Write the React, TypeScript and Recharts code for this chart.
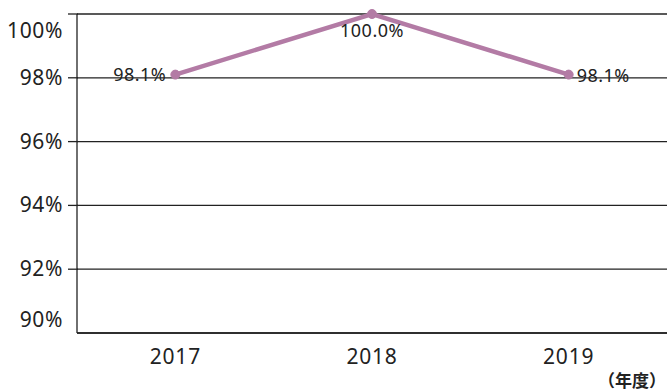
import React from 'react';
import { LineChart, Line, XAxis, YAxis, CartesianGrid, LabelList } from 'recharts';

const years = ['2017', '2018', '2019'];
const rates = [98.1, 100.0, 98.1];
const yTicks = [90, 92, 94, 96, 98, 100];

const chartData = years.map((year, i) => ({ year, rate: rates[i] }));

const FONT = '"Noto Sans", sans-serif';
const CJK = '"Noto Sans CJK JP", sans-serif';
const INK = '#222';
const TEXT = '#222';
const LINE_COLOR = '#b37ba5';

const YTick = ({ x, y, payload }: any) => {
  const v = payload.value;
  // top and bottom labels sit inside the plot band in the original
  const shift = v === 100 ? 17 : v === 90 ? -13 : 0;
  return (
    <g>
      {v !== 90 && <line x1={x - 1} x2={x + 9} y1={y} y2={y} stroke={INK} strokeWidth={1.3} />}
      <text x={x - 6} y={y + shift} dy={7} textAnchor="end" fontSize={21} letterSpacing={0.6} fill={TEXT} fontFamily={FONT}>
        {v}%
      </text>
    </g>
  );
};

const XTick = ({ x, y, payload }: any) => (
  <text x={x} y={y} dy={23} textAnchor="middle" fontSize={21} letterSpacing={0.8} fill={TEXT} fontFamily={FONT}>
    {payload.value}
  </text>
);

const PointLabel = ({ x, y, value, index }: any) => {
  const text = `${Number(value).toFixed(1)}%`;
  const common = { fontSize: 18, letterSpacing: 0.5, fill: TEXT, fontFamily: FONT };
  if (index === 0) {
    return <text x={x - 9} y={y} dy={6} textAnchor="end" {...common}>{text}</text>;
  }
  if (index === 1) {
    return <text x={x} y={y + 17} dy={6} textAnchor="middle" {...common}>{text}</text>;
  }
  return <text x={x + 8} y={y} dy={7} textAnchor="start" {...common}>{text}</text>;
};

export default function App() {
  return (
    <div style={{ position: 'absolute', left: 0, top: 0, width: 669, height: 391, background: '#fff' }}>
      <LineChart width={669} height={391} data={chartData} margin={{ top: 14, right: 2, bottom: 0, left: 0 }}>
        <CartesianGrid vertical={false} stroke={INK} strokeWidth={1.3} />
        <XAxis
          dataKey="year"
          scale="band"
          height={58}
          axisLine={{ stroke: INK, strokeWidth: 1.3 }}
          tickLine={false}
          tick={<XTick />}
        />
        <YAxis
          width={77}
          domain={[90, 100]}
          ticks={yTicks}
          interval={0}
          axisLine={{ stroke: INK, strokeWidth: 1.3 }}
          tickLine={false}
          tick={<YTick />}
        />
        <Line
          type="linear"
          dataKey="rate"
          stroke={LINE_COLOR}
          strokeWidth={4.5}
          dot={{ r: 4.5, fill: LINE_COLOR, stroke: LINE_COLOR, strokeWidth: 1 }}
          isAnimationActive={false}
        >
          <LabelList dataKey="rate" content={<PointLabel />} />
        </Line>
      </LineChart>
      <div
        style={{
          position: 'absolute',
          left: 598,
          top: 369,
          fontSize: 17,
          lineHeight: '21px',
          fontWeight: 700,
          fontFamily: CJK,
          color: '#222',
          whiteSpace: 'nowrap',
        }}
      >
        （年度）
      </div>
    </div>
  );
}
